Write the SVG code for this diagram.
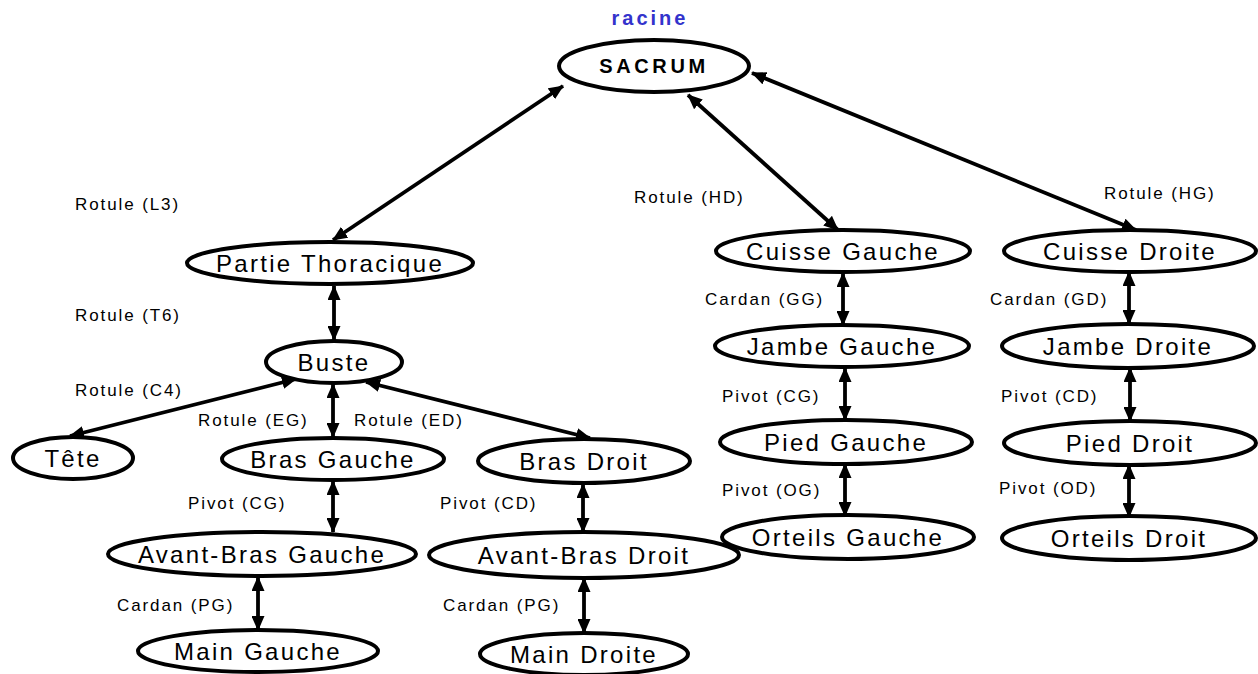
<svg xmlns="http://www.w3.org/2000/svg" width="1258" height="674" viewBox="0 0 1258 674">
  <style>
    .node ellipse { fill: #ffffff; stroke: #000000; stroke-width: 4; }
    .node text { font-family: "Liberation Sans", Arial, sans-serif; font-size: 24px; letter-spacing: 2.3px; text-anchor: middle; fill: #000000; }
    .node text.root { font-weight: bold; font-size: 20px; letter-spacing: 3.6px; }
    .lbl { font-family: "Liberation Sans", Arial, sans-serif; font-size: 17px; letter-spacing: 1.9px; fill: #000000; }
    .title { font-family: "Liberation Sans", Arial, sans-serif; font-weight: bold; font-size: 20px; letter-spacing: 3px; fill: #3333cc; text-anchor: middle; }
    .edges line { stroke: #000000; stroke-width: 3.8; marker-start: url(#head); marker-end: url(#head); }
  </style>
  <defs>
    <marker id="head" viewBox="0 0 15 13" refX="14" refY="6.5" markerWidth="15" markerHeight="13" markerUnits="userSpaceOnUse" orient="auto-start-reverse">
      <path d="M0,0 L15,6.5 L0,13 z" fill="#000000"/>
    </marker>
  </defs>

  <rect width="1258" height="674" fill="#ffffff"/>

  <text class="title" x="650" y="25">racine</text>

  <!-- joints -->
  <g id="edges" class="edges">
    <line x1="563" y1="86" x2="333" y2="240"/>
    <line x1="688" y1="95" x2="838" y2="230"/>
    <line x1="752" y1="73" x2="1136" y2="230"/>
    <line x1="334" y1="286" x2="334" y2="340"/>
    <line x1="296" y1="379" x2="70" y2="436"/>
    <line x1="333" y1="384" x2="333" y2="437"/>
    <line x1="366" y1="382" x2="590" y2="438"/>
    <line x1="333" y1="481" x2="333" y2="532"/>
    <line x1="258" y1="577" x2="258" y2="630"/>
    <line x1="583" y1="484" x2="583" y2="532"/>
    <line x1="584" y1="578" x2="584" y2="633"/>
    <line x1="843" y1="273" x2="843" y2="325"/>
    <line x1="845" y1="368" x2="845" y2="420"/>
    <line x1="845" y1="464" x2="845" y2="516"/>
    <line x1="1129" y1="272" x2="1129" y2="324"/>
    <line x1="1130" y1="368" x2="1130" y2="421"/>
    <line x1="1129" y1="465" x2="1129" y2="517"/>
  </g>

  <!-- joint labels -->
  <g id="labels">
    <text class="lbl" x="75" y="210">Rotule (L3)</text>
    <text class="lbl" x="75" y="321">Rotule (T6)</text>
    <text class="lbl" x="75" y="396">Rotule (C4)</text>
    <text class="lbl" x="198" y="426">Rotule (EG)</text>
    <text class="lbl" x="354" y="426">Rotule (ED)</text>
    <text class="lbl" x="188" y="509">Pivot (CG)</text>
    <text class="lbl" x="117" y="611">Cardan (PG)</text>
    <text class="lbl" x="440" y="509">Pivot (CD)</text>
    <text class="lbl" x="443" y="611">Cardan (PG)</text>
    <text class="lbl" x="634" y="203">Rotule (HD)</text>
    <text class="lbl" x="1104" y="199">Rotule (HG)</text>
    <text class="lbl" x="705" y="305">Cardan (GG)</text>
    <text class="lbl" x="722" y="402">Pivot (CG)</text>
    <text class="lbl" x="722" y="496">Pivot (OG)</text>
    <text class="lbl" x="990" y="305">Cardan (GD)</text>
    <text class="lbl" x="1001" y="402">Pivot (CD)</text>
    <text class="lbl" x="999" y="494">Pivot (OD)</text>
  </g>

  <!-- segments -->
  <g id="sacrum" class="node"><ellipse cx="654" cy="66" rx="95" ry="26"/><text class="root" x="654" y="73">SACRUM</text></g>
  <g id="partie-thoracique" class="node"><ellipse cx="330" cy="263" rx="143" ry="21"/><text x="330" y="272">Partie Thoracique</text></g>
  <g id="buste" class="node"><ellipse cx="334" cy="362" rx="68" ry="21"/><text x="334" y="371">Buste</text></g>
  <g id="tete" class="node"><ellipse cx="73" cy="458" rx="60" ry="21"/><text x="73" y="467">Tête</text></g>
  <g id="bras-gauche" class="node"><ellipse cx="333" cy="459" rx="111" ry="21"/><text x="333" y="468">Bras Gauche</text></g>
  <g id="bras-droit" class="node"><ellipse cx="584" cy="461" rx="106" ry="22"/><text x="584" y="470">Bras Droit</text></g>
  <g id="avant-bras-gauche" class="node"><ellipse cx="262" cy="554" rx="154" ry="22"/><text x="262" y="563">Avant-Bras Gauche</text></g>
  <g id="avant-bras-droit" class="node"><ellipse cx="584" cy="555" rx="155" ry="23"/><text x="584" y="564">Avant-Bras Droit</text></g>
  <g id="main-gauche" class="node"><ellipse cx="258" cy="651" rx="120" ry="21"/><text x="258" y="660">Main Gauche</text></g>
  <g id="main-droite" class="node"><ellipse cx="584" cy="654" rx="104" ry="21"/><text x="584" y="663">Main Droite</text></g>
  <g id="cuisse-gauche" class="node"><ellipse cx="843" cy="251" rx="127" ry="21"/><text x="843" y="260">Cuisse Gauche</text></g>
  <g id="jambe-gauche" class="node"><ellipse cx="842" cy="346" rx="127" ry="21"/><text x="842" y="355">Jambe Gauche</text></g>
  <g id="pied-gauche" class="node"><ellipse cx="846" cy="442" rx="126" ry="22"/><text x="846" y="451">Pied Gauche</text></g>
  <g id="orteils-gauche" class="node"><ellipse cx="848" cy="537" rx="126" ry="22"/><text x="848" y="546">Orteils Gauche</text></g>
  <g id="cuisse-droite" class="node"><ellipse cx="1130" cy="251" rx="126" ry="21"/><text x="1130" y="260">Cuisse Droite</text></g>
  <g id="jambe-droite" class="node"><ellipse cx="1128" cy="346" rx="126" ry="22"/><text x="1128" y="355">Jambe Droite</text></g>
  <g id="pied-droit" class="node"><ellipse cx="1130" cy="443" rx="126" ry="22"/><text x="1130" y="452">Pied Droit</text></g>
  <g id="orteils-droit" class="node"><ellipse cx="1129" cy="538" rx="127" ry="22"/><text x="1129" y="547">Orteils Droit</text></g>
</svg>
